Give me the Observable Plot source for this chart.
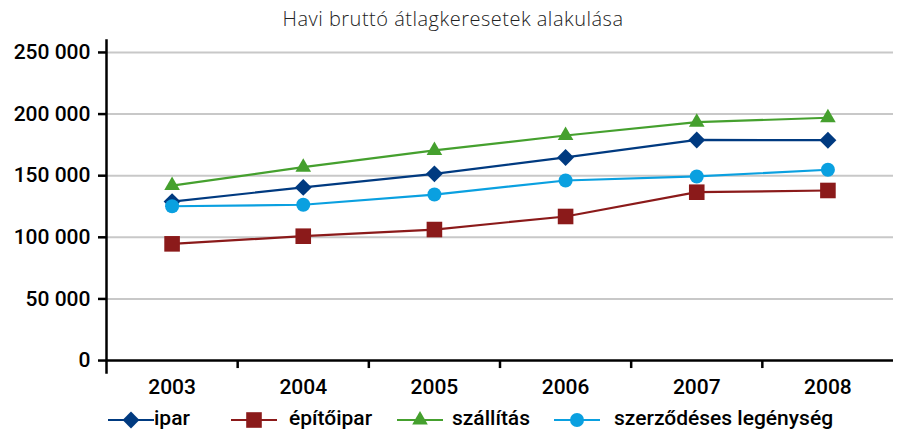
<!DOCTYPE html>
<html>
<head>
<meta charset="utf-8">
<script src="https://cdn.jsdelivr.net/npm/d3@7"></script>
<script src="https://cdn.jsdelivr.net/npm/@observablehq/plot@0.6"></script>
<style>
  html, body { margin: 0; padding: 0; background: #fff; }
  body { width: 902px; height: 432px; position: relative; overflow: hidden; font-family: Roboto, "Liberation Sans", sans-serif; }
  #title { position: absolute; left: 0; top: 0; width: 906px; height: 34px; text-align: center; font-family: "Open Sans", "Liberation Sans", Arial, sans-serif; font-size: 20px; letter-spacing: 0.5px; font-weight: 300; line-height: 20px; padding-top: 9px; box-sizing: border-box; color: #222; }
  #chart { position: absolute; left: 0; top: 34px; }
  #legend { position: absolute; left: 0; top: 404px; width: 902px; height: 28px; }
  .sw { position: absolute; top: 4px; }
  .lt { position: absolute; top: 2px; font-size: 21px; font-weight: 500; line-height: 24px; color: #000; white-space: nowrap; }
</style>
</head>
<body>
<div id="title">Havi bruttó átlagkeresetek alakulása</div>
<div id="chart"></div>
<div id="legend"></div>
<script>
const years = [2003, 2004, 2005, 2006, 2007, 2008];
const ipar = [129000, 140500, 151500, 164800, 179000, 178800];
const epitoipar = [94700, 100900, 106300, 116900, 136600, 138000];
const szallitas = [142000, 156900, 170500, 182600, 193400, 197000];
const szerzodeses = [125200, 126400, 134700, 146100, 149400, 154800];
const seriesNames = ["ipar", "építőipar", "szállítás", "szerződéses legénység"];
const seriesValues = [ipar, epitoipar, szallitas, szerzodeses];
const seriesColors = ["#003A80", "#8B1A1A", "#45A02E", "#0AA0E0"];
const seriesSymbols = ["diamond2", "square", "triangle", "circle"];
const seriesR = [7.6, 8.8, 5.8, 7];
const yTicks = [0, 50000, 100000, 150000, 200000, 250000];
const xBoundaries = [2003.5, 2004.5, 2005.5, 2006.5, 2007.5];

const fmt = d => d3.format(",")(d).replace(/,/g, " ");

const rows = [];
seriesNames.forEach((name, i) => {
  years.forEach((yr, j) => rows.push({series: name, year: yr, value: seriesValues[i][j], idx: i}));
});

const marks = [
  Plot.ruleY(yTicks.filter(d => d > 0), {stroke: "#c8c8c8", strokeWidth: 2}),
  Plot.ruleY([0], {stroke: "#000", strokeWidth: 2.5}),
  Plot.frame({anchor: "left", stroke: "#000", strokeWidth: 2.5}),
  Plot.ruleX(xBoundaries, {y1: 0, y2: -6500, stroke: "#000", strokeWidth: 2.5}),
  Plot.axisY({ticks: yTicks, tickSize: 8, tickPadding: 8, tickFormat: fmt, strokeWidth: 2.5, fontSize: 21, fontWeight: 500, label: null}),
  Plot.axisX({ticks: years, tickSize: 0, tickPadding: 7, tickFormat: d => String(d), fontSize: 21, fontWeight: 500, label: null})
];
seriesNames.forEach((name, i) => {
  const data = rows.filter(r => r.series === name);
  marks.push(Plot.line(data, {x: "year", y: "value", stroke: seriesColors[i], strokeWidth: 2.2}));
});
seriesNames.forEach((name, i) => {
  const data = rows.filter(r => r.series === name);
  marks.push(Plot.dot(data, {x: "year", y: "value", symbol: seriesSymbols[i], fill: seriesColors[i], stroke: "none", r: seriesR[i]}));
});

const chart = Plot.plot({
  width: 902,
  height: 364,
  marginLeft: 106,
  marginRight: 9,
  marginTop: 6,
  marginBottom: 26,
  x: {type: "linear", domain: [2002.5, 2008.5], label: null},
  y: {domain: [-9700, 259700], label: null},
  style: {fontFamily: "Roboto, 'Liberation Sans', sans-serif", fontSize: "21px", color: "#000", background: "transparent"},
  marks
});
document.getElementById("chart").appendChild(chart);

// legend
const legend = document.getElementById("legend");
const swLeft = [108, 231, 397, 554];
const txtLeft = [154, 289, 452, 614];
const symMap = {diamond2: d3.symbolDiamond2, square: d3.symbolSquare, triangle: d3.symbolTriangle, circle: d3.symbolCircle};
seriesNames.forEach((name, i) => {
  const w = 46, h = 24;
  const svg = d3.create("svg").attr("class", "sw").attr("width", w).attr("height", h)
    .style("left", swLeft[i] + "px");
  svg.append("line").attr("x1", 0).attr("x2", w).attr("y1", h / 2).attr("y2", h / 2)
    .attr("stroke", seriesColors[i]).attr("stroke-width", 2.2);
  const size = Math.PI * seriesR[i] * seriesR[i];
  svg.append("path").attr("transform", `translate(${w / 2},${h / 2})`)
    .attr("d", d3.symbol(symMap[seriesSymbols[i]], size)())
    .attr("fill", seriesColors[i]);
  legend.appendChild(svg.node());
  const t = document.createElement("span");
  t.className = "lt";
  t.style.left = txtLeft[i] + "px";
  t.textContent = name;
  legend.appendChild(t);
});
</script>
</body>
</html>
